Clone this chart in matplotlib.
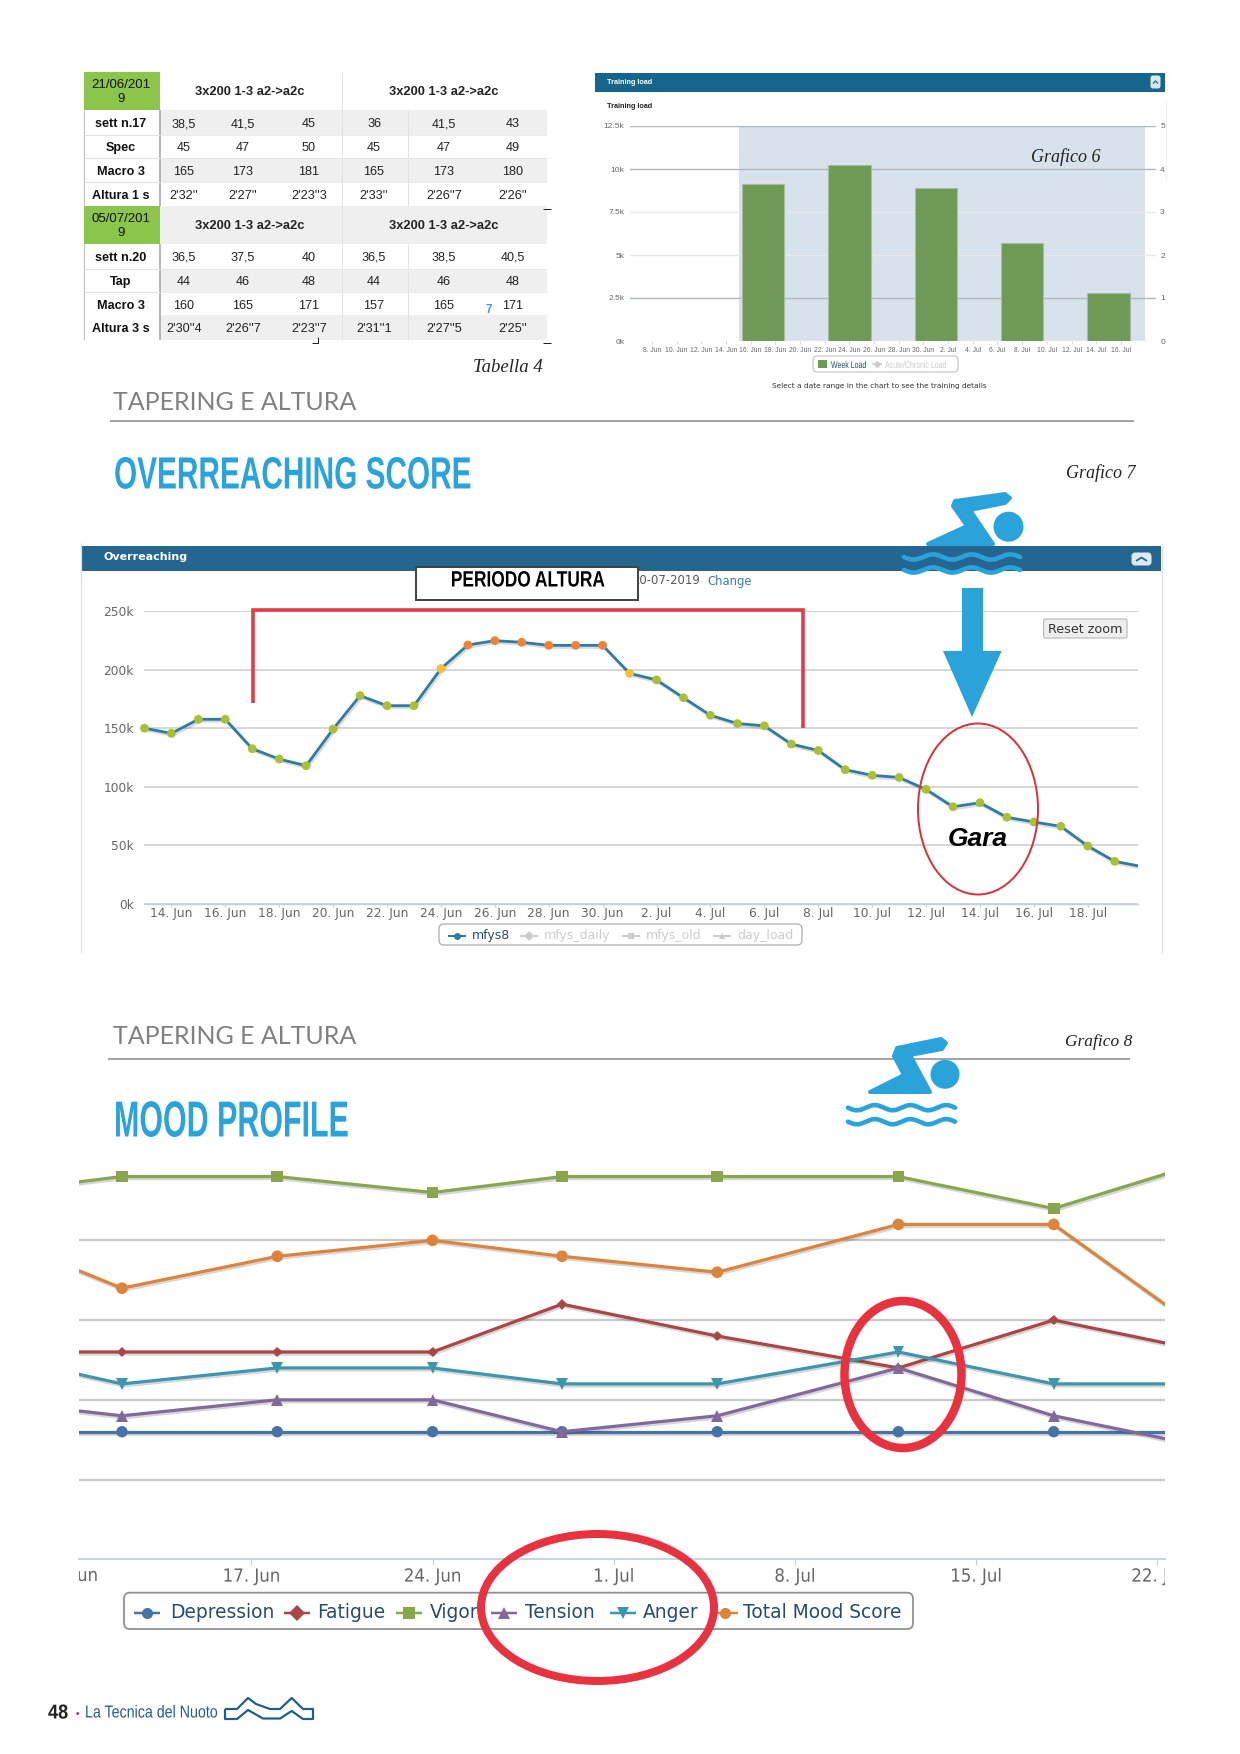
import numpy as np
import matplotlib
matplotlib.use('Agg')
import matplotlib.pyplot as plt
from matplotlib.patches import Rectangle, Ellipse, Polygon, Circle, FancyBboxPatch
from matplotlib.transforms import Affine2D, Bbox
import matplotlib.patheffects as pe

W, H = 1240, 1754
PX = 0.72
SANS = ['Liberation Sans']
SERIF = ['Liberation Serif']
DV = ['DejaVu Sans']

# ---------- table data ----------
table_top_header = ['3x200 1-3 a2->a2c', '3x200 1-3 a2->a2c']
table_dates = ['21/06/201\n9', '05/07/201\n9']
table_labels_a = ['sett n.17', 'Spec', 'Macro 3', 'Altura 1 s']
table_labels_b = ['sett n.20', 'Tap', 'Macro 3', 'Altura 3 s']
table_rows_a = [['38,5', '41,5', '45', '36', '41,5', '43'],
                ['45', '47', '50', '45', '47', '49'],
                ['165', '173', '181', '165', '173', '180'],
                ["2'32''", "2'27''", "2'23''3", "2'33''", "2'26''7", "2'26''"]]
table_rows_b = [['36,5', '37,5', '40', '36,5', '38,5', '40,5'],
                ['44', '46', '48', '44', '46', '48'],
                ['160', '165', '171', '157', '165', '171'],
                ["2'30''4", "2'26''7", "2'23''7", "2'31''1", "2'27''5", "2'25''"]]

# ---------- training load (Grafico 6) ----------
load_days = [17, 24, 31, 38, 45]
load_values = [9120, 10250, 8890, 5670, 2800]
load_tick_days = list(range(8, 47, 2))
load_tick_labels = ['8. Jun', '10. Jun', '12. Jun', '14. Jun', '16. Jun', '18. Jun', '20. Jun',
                    '22. Jun', '24. Jun', '26. Jun', '28. Jun', '30. Jun', '2. Jul', '4. Jul',
                    '6. Jul', '8. Jul', '10. Jul', '12. Jul', '14. Jul', '16. Jul']
load_yticks = [0, 2500, 5000, 7500, 10000, 12500]
load_ylabels = ['0k', '2.5k', '5k', '7.5k', '10k', '12.5k']
load_right_ticks = [0, 1, 2, 3, 4, 5]

# ---------- overreaching (Grafico 7) ----------
over_days = list(range(13, 51))
over_values = [150, 145.6, 157.6, 157.6, 132.5, 123.7, 118, 149.3, 177.8, 169.2, 169.2, 200.8,
               221, 224.7, 223.3, 220.7, 220.7, 220.7, 196.8, 191.2, 176, 161, 154, 152, 136.5,
               131, 114.6, 109.8, 108, 97.8, 83, 86.4, 74, 70, 66.3, 49.5, 36.4, 32]
over_tick_days = list(range(14, 49, 2))
over_tick_labels = ['14. Jun', '16. Jun', '18. Jun', '20. Jun', '22. Jun', '24. Jun', '26. Jun',
                    '28. Jun', '30. Jun', '2. Jul', '4. Jul', '6. Jul', '8. Jul', '10. Jul',
                    '12. Jul', '14. Jul', '16. Jul', '18. Jul']
over_yticks = [0, 50, 100, 150, 200, 250]
over_ylabels = ['0k', '50k', '100k', '150k', '200k', '250k']

# ---------- mood profile (Grafico 8) ----------
mood_days = [7, 12, 18, 24, 29, 35, 42, 48, 54]
depression = [8, 8, 8, 8, 8, 8, 8, 8, 8]
fatigue = [13, 13, 13, 13, 16, 14, 12, 15, 13]
vigor = [23, 24, 24, 23, 24, 24, 24, 22, 25]
tension = [9.9, 9, 10, 10, 8, 9, 12, 9, 7]
anger = [12.8, 11, 12, 12, 11, 11, 13, 11, 11]
total_mood = [20.3, 17, 19, 20, 19, 18, 21, 21, 14]
mood_tick_days = [17, 24, 31, 38, 45, 52]
mood_tick_labels = ['17. Jun', '24. Jun', '1. Jul', '8. Jul', '15. Jul', '22. Jul']
mood_grid = [5, 10, 15, 20]

fig = plt.figure(figsize=(W / 100, H / 100), dpi=100, facecolor='white')


class SqueezeX(pe.AbstractPathEffect):
    """Draws a text narrower about a fixed display x (the page's condensed typefaces)."""

    def __init__(self, sx, x0):
        super().__init__()
        self.sx, self.x0 = sx, x0

    def draw_path(self, renderer, gc, tpath, affine, rgbFace=None):
        a = affine + Affine2D().translate(-self.x0, 0).scale(self.sx, 1).translate(self.x0, 0)
        renderer.draw_path(gc, tpath, a, rgbFace)


def px_axes(l, t, r, b, z=1):
    ax = fig.add_axes([l / W, 1 - b / H, (r - l) / W, (b - t) / H], zorder=z)
    ax.patch.set_alpha(0)
    return ax


bg = px_axes(0, 0, W, H, 0)
fg = px_axes(0, 0, W, H, 5)
for a in (bg, fg):
    a.set_xlim(0, W)
    a.set_ylim(H, 0)
    a.axis('off')


def T(a, x, y, s, size, color='black', ha='center', va='center', family=SANS, sx=None, **kw):
    t = a.text(x, y + 1, s, fontsize=size, color=color, ha=ha, va=va, family=family, **kw)
    if sx:
        t.set_path_effects([SqueezeX(sx, x)])
    return t


def L(a, xs, ys, color, px=1.0, **kw):
    a.plot(xs, ys, color=color, lw=px * PX, solid_capstyle=kw.pop('cap', 'butt'), **kw)


def R(a, x0, y0, x1, y1, color, **kw):
    a.add_patch(Rectangle((x0, y0), x1 - x0, y1 - y0, facecolor=color, edgecolor='none', **kw))


def round_box(a, x0, y0, x1, y1, fc='white', ec='#999999', px=1.0, rad=4, **kw):
    a.add_patch(FancyBboxPatch((x0, y0), x1 - x0, y1 - y0,
                               boxstyle=f'round,pad=0,rounding_size={rad}',
                               fc=fc, ec=ec, lw=px * PX, **kw))


def squeeze_ticks(ax, ticks, labels, sx):
    for d, lab in zip(ticks, labels):
        lab.set_path_effects([SqueezeX(sx, ax.transData.transform((d, 0))[0])])


# ---------- table ----------
GREEN = '#8CC54B'
GREY = '#EFEFEF'
col_x = [184, 243, 309, 374, 444, 513]
row_edges = [110, 135, 158, 182, 206, 244, 269, 292, 315, 340]
for i, fill in enumerate([GREY, None, GREY, None, GREY, None, GREY, None, GREY]):
    if fill:
        R(bg, 160, row_edges[i], 547, row_edges[i + 1], fill)
R(bg, 84, 72, 160, 110, GREEN)
R(bg, 84, 206, 160, 244, GREEN)
L(bg, [84, 84], [110, 206], '#BBBBBB', 1)
L(bg, [84, 84], [244, 340], '#BBBBBB', 1)
L(bg, [160, 160], [110, 206], '#A0A0A0', 1.5)
L(bg, [160, 160], [244, 340], '#A0A0A0', 1.5)
L(bg, [342, 342], [72, 340], '#E2E2E2', 1)
L(bg, [408, 408], [110, 206], '#E2E2E2', 1)
L(bg, [408, 408], [244, 340], '#E2E2E2', 1)
for y in row_edges[1:4] + row_edges[6:8]:
    L(bg, [84, 160], [y, y], '#E2E2E2', 1)
    L(bg, [160, 547], [y, y], '#E6E6E6', 0.8)
tbl_fs = 9.1
for date, y, hy in zip(table_dates, [91, 225], [91.3, 225]):
    T(bg, 121, y, date, 9.5, linespacing=1.3, color='#111111')
    for cx, h in zip([250, 444], table_top_header):
        T(bg, cx, hy, h, 9.3, weight='bold', color='#222222')
for labels, rows, ys in [(table_labels_a, table_rows_a, [123.3, 147, 171, 194.7]),
                         (table_labels_b, table_rows_b, [257, 281, 305, 327.7])]:
    for lab, row, y in zip(labels, rows, ys):
        T(bg, 121, y, lab, tbl_fs, weight='bold', color='#111111')
        for cx, v in zip(col_x, row):
            T(bg, cx, y, v, tbl_fs, color='#222222')
T(bg, 489, 309, '7', 8.5, color='#3E9DBB', weight='bold')
L(bg, [543, 551], [209, 209], '#222222', 1)
L(bg, [543, 551], [343, 343], '#222222', 1)
L(bg, [312, 318, 318], [343, 343, 337], '#222222', 1)
T(bg, 543, 367, 'Tabella 4', 13.5, ha='right', family=SERIF, style='italic', color='#222222')

# ---------- section titles ----------
HEAD = '#29A3D9'
T(bg, 113, 401, 'TAPERING E ALTURA', 18, color='#808080', ha='left', family=['Lato'])
L(bg, [110, 1134], [421, 421], '#A5A5A5', 2)
T(bg, 114, 476, 'OVERREACHING SCORE', 32.5, color=HEAD, ha='left', weight='bold', sx=0.66)
T(bg, 1136, 472, 'Grafico 7', 13, ha='right', family=SERIF, style='italic', color='#222222')
T(bg, 113, 1036, 'TAPERING E ALTURA', 18, color='#808080', ha='left', family=['Lato'])
L(bg, [108, 1130], [1059, 1059], '#A5A5A5', 2)
T(bg, 114, 1122, 'MOOD PROFILE', 36.5, color=HEAD, ha='left', weight='bold', sx=0.6)
T(bg, 1132, 1041, 'Grafico 8', 12.5, ha='right', family=SERIF, style='italic', color='#222222')

# ---------- Grafico 6 ----------
R(bg, 595, 73, 1165, 92, '#15658C')
T(bg, 607, 81, 'Training load', 5.2, color='white', ha='left', weight='bold')
T(bg, 607, 105, 'Training load', 5.2, color='#222222', ha='left', weight='bold')
round_box(bg, 1151, 76, 1160, 88, fc='#D8E8F2', ec='#D8E8F2', rad=2)
L(bg, [1153, 1155.5, 1158], [83.5, 81, 83.5], '#15658C', 1.2)
L(bg, [1166, 1166], [100, 180], '#F0F0F0', 1)

ax6 = px_axes(630, 126, 1156, 341)
ax6.axvspan(15.1, 47.97, color='#D8E2EC', zorder=0, lw=0)
ax6.bar(load_days, load_values, width=3.44, color='#6E9A56', edgecolor='#A9BBA2',
        linewidth=0.8, zorder=3)
ax6.set_yticks(load_yticks, load_ylabels, fontsize=6, color='#666666', family=SANS)
ax6.set_xticks(load_tick_days, load_tick_labels, fontsize=4.9, color='#666666', family=SANS)
ax6.set_xlim(6.23, 48.84)
ax6.set_ylim(0, 12500)
ax6.tick_params(axis='y', length=0, pad=4)
ax6.tick_params(axis='x', length=2, color='#C0D0E0', width=0.6, pad=2)
for s in ax6.spines.values():
    s.set_visible(False)
ax6.yaxis.grid(True, zorder=1)
ax6.set_axisbelow(True)
for gl, c in zip(ax6.yaxis.get_gridlines(), ['#E8ECEF', '#B2B6B8', '#E6E8EA', '#E6E8EA', '#B2B6B8', '#B2B6B8']):
    gl.set_color(c)
    gl.set_linewidth(1)
ax6b = ax6.twinx()
ax6b.set_ylim(0, 5)
ax6b.set_yticks(load_right_ticks, [str(v) for v in load_right_ticks], fontsize=6,
                color='#666666', family=SANS)
ax6b.tick_params(axis='y', length=0, pad=3)
for s in ax6b.spines.values():
    s.set_visible(False)
ax6b.patch.set_alpha(0)
T(fg, 1066, 156, 'Grafico 6', 13, family=SERIF, style='italic', color='#222222')
round_box(bg, 813, 356, 958, 372, ec='#BBBBBB')
R(bg, 818, 360, 827, 368, '#6E9A56')
T(bg, 831, 364, 'Week Load', 7, ha='left', color='#274B6D', sx=0.72)
L(bg, [872, 882], [364, 364], '#CCCCCC', 1.5)
bg.plot([877], [364], 'D', color='#CCCCCC', ms=3)
T(bg, 885, 364, 'Acute/Chronic Load', 7, ha='left', color='#CCCCCC', sx=0.72)
T(bg, 879, 385, 'Select a date range in the chart to see the training details', 5.3, color='#333333',
  family=DV)

# ---------- Grafico 7 ----------
R(bg, 81, 546, 1161, 571, '#246690')
L(bg, [81, 81], [543, 953], '#E0E0E0', 1.2)
L(bg, [1162, 1162], [543, 953], '#E0E0E0', 1.2)
T(bg, 104, 556, 'Overreaching', 8, color='white', ha='left', weight='bold', family=DV)
T(bg, 700, 580, '20-07-2019', 8.4, color='#555555', ha='right', family=DV)
T(bg, 707, 580, 'Change', 8.4, color='#3A79B0', ha='left', family=DV)
round_box(bg, 1132, 553, 1151, 565, fc='#DCEBF4', ec='#DCEBF4', rad=3)
L(bg, [1136, 1141.5, 1147], [561, 557.5, 561], '#246690', 1.8)

ax7 = px_axes(143.5, 611, 1137.6, 904)
ax7.yaxis.grid(True, color='#CCCCCC', linewidth=1.1)
ax7.set_axisbelow(True)
ax7.plot(over_days, over_values, color='#2E7BA4', lw=2.0, zorder=3,
         path_effects=[pe.SimpleLineShadow(offset=(1, -1.5), alpha=0.18, shadow_color='#333333'), pe.Normal()])
point_colors = ['#EE8236' if v >= 210 else '#F6BE3A' if v >= 195 else '#A9C034' for v in over_values]
ax7.scatter(over_days[:-1], over_values[:-1], s=40, c=point_colors[:-1], zorder=4, linewidths=0, clip_on=False)
ax7.set_yticks(over_yticks, over_ylabels, fontsize=8.8, color='#666666', family=DV)
ax7.set_xticks(over_tick_days, over_tick_labels, fontsize=8.8, color='#666666', family=DV)
ax7.set_xlim(12.965, 49.85)
ax7.set_ylim(0, 250)
ax7.tick_params(axis='y', length=0, pad=7)
ax7.tick_params(axis='x', length=2, color='#C0D0E0', width=0.8, pad=0)
for k, s in ax7.spines.items():
    s.set_visible(k == 'bottom')
ax7.spines['bottom'].set_color('#C0D0E0')
ax7.spines['bottom'].set_linewidth(1)

round_box(bg, 439, 924, 802, 945, ec='#AAAAAA', px=1.2, rad=5)
for ix, tx, name, col, mk in [(456.5, 472, 'mfys8', '#274B6D', 'o'), (529, 544, 'mfys_daily', '#CCCCCC', 'D'),
                              (631, 646, 'mfys_old', '#CCCCCC', 's'), (722, 737, 'day_load', '#CCCCCC', '^')]:
    c2 = '#2E7BA4' if name == 'mfys8' else col
    L(bg, [ix - 9, ix + 9], [936, 936], c2, 2)
    bg.plot([ix], [936], mk, color=c2, ms=5, mew=0)
    T(bg, tx, 935, name, 9, ha='left', color=col, family=DV)

round_box(bg, 1043.6, 619, 1127, 638, fc='#EEEEEE', ec='#BBBBBB', px=1.2, rad=2, zorder=6)
T(bg, 1085, 628.5, 'Reset zoom', 9.2, color='#333333', family=DV, zorder=7)

# red bracket, title box, race ellipse, arrow (overlay)
RED = '#E63946'
L(fg, [252.5, 252.5, 802.5, 802.5], [703, 610, 610, 728], RED, 3.6, solid_joinstyle='miter')
fg.add_patch(Rectangle((416, 567), 222, 33, fc='white', ec='#444444', lw=2 * PX))
T(fg, 528, 580, 'PERIODO ALTURA', 16, color='black', weight='bold', sx=0.78)
fg.add_patch(Ellipse((978, 809), 120, 171, fc='none', ec='#D8343F', lw=2 * PX))
T(fg, 977.5, 838, 'Gara', 19, weight='bold', style='italic', color='black')
fg.add_patch(Polygon([(962, 588), (983, 588), (983, 651), (1001.6, 651), (972, 717), (943, 651), (962, 651)],
                     fc=HEAD, ec='none'))


def swimmer(head, r, pts, wave_x, wave_y):
    fg.add_patch(Circle(head, r, fc=HEAD, ec='none'))
    fg.add_patch(Polygon(pts, fc=HEAD, ec=HEAD, lw=4 * PX, joinstyle='round'))
    for y0 in wave_y:
        xs = np.linspace(wave_x[0], wave_x[1], 160)
        ys = y0 + 2.6 * np.sin((xs - wave_x[0]) / (wave_x[1] - wave_x[0]) * 2 * np.pi * 3)
        fg.plot(xs, ys, color=HEAD, lw=4.6 * PX, solid_capstyle='round')


swimmer((1008.5, 526.7), 15,
        [(953, 506), (955, 501), (1005, 494), (1010, 498), (1005, 503), (970, 510),
         (993, 544), (928, 544), (967, 526)],
        (904, 1020), (557, 570))
swimmer((945, 1074.3), 14.5,
        [(894, 1056), (897, 1048), (941, 1039), (946, 1043), (942, 1049), (910, 1055),
         (930, 1092), (870, 1092), (904, 1075)],
        (848, 955), (1107.7, 1121.7))

# ---------- Grafico 8 ----------
ax8 = px_axes(79, 1160.6, 1165, 1559.3)
ax8.set_yticks(mood_grid)
ax8.yaxis.grid(True, color='#C8C8C8', linewidth=1.6)
ax8.set_axisbelow(True)
ax8.tick_params(axis='y', length=0, labelleft=False)
ax8.set_xticks(mood_tick_days, mood_tick_labels, fontsize=13, color='#666666', family=DV)
ax8.set_xlim(10.34, 52.30)
ax8.set_ylim(0, 25)
ax8.tick_params(axis='x', length=4, color='#C0D0E0', width=0.8, pad=2)
squeeze_ticks(ax8, mood_tick_days, ax8.get_xticklabels(), 0.92)
clip_box = Bbox([[79, 0], [1165, H]])
for lab in ax8.get_xticklabels():
    lab.set_clip_box(clip_box)
    lab.set_clip_on(True)
edge = T(bg, 69, 1575, '10. Jun', 13, color='#666666', family=DV, sx=0.92)
edge.set_clip_box(clip_box)
edge.set_clip_on(True)
for k, s in ax8.spines.items():
    s.set_visible(k == 'bottom')
ax8.spines['bottom'].set_color('#C0D0E0')
ax8.spines['bottom'].set_linewidth(1.3)
shadow = [pe.SimpleLineShadow(offset=(0.8, -1.5), alpha=0.2, shadow_color='#333333'), pe.Normal()]
mood_series = [('Depression', depression, '#4572A7', 'o', 8.2),
               ('Fatigue', fatigue, '#AA4643', 'D', 5.5),
               ('Vigor', vigor, '#89A54E', 's', 8.4),
               ('Tension', tension, '#80699B', '^', 8.4),
               ('Anger', anger, '#3D96AE', 'v', 8.4),
               ('Total Mood Score', total_mood, '#DB843D', 'o', 8.4)]
for name, vals, col, mk, ms in mood_series:
    ax8.plot(mood_days, vals, color=col, lw=2.3, marker=mk, ms=ms, mew=0, label=name, path_effects=shadow)

round_box(bg, 124, 1592.7, 913, 1629, ec='#909090', px=1.8, rad=6)
leg_pos = [(147, 170), (297, 317.6), (408.5, 430), (504, 525), (623, 643), (725, 743)]
for (ix, tx), (name, vals, col, mk, ms) in zip(leg_pos, mood_series):
    L(bg, [ix - 13, ix + 13], [1613, 1613], col, 2.5)
    bg.plot([ix], [1613], mk, color=col, ms=8, mew=0)
    T(bg, tx, 1612, name, 13.4, ha='left', color='#274B6D', family=DV)

fg.add_patch(Ellipse((903, 1374.5), 117, 147, fc='none', ec='#E8323F', lw=8.5 * PX))
fg.add_patch(Ellipse((597.5, 1607.5), 233, 147, fc='none', ec='#E8323F', lw=8 * PX))

# ---------- footer ----------
T(bg, 48, 1712, '48', 14.5, ha='left', weight='bold', sx=0.9, color='#222222')
T(bg, 77, 1713, '•', 7, color='#C2185B')
T(bg, 85, 1712, 'La Tecnica del Nuoto', 12.5, ha='left', color='#1F5C8F', sx=0.82)
logo_x = [225, 237, 248, 256, 270, 280, 291.7, 303, 313, 313, 303, 291.7, 280, 263, 248, 237, 225, 225]
logo_y = [1709, 1709, 1698, 1704, 1709, 1709, 1698, 1709, 1709, 1719, 1719, 1711, 1718.5, 1718.5, 1710, 1719, 1719, 1709]
L(bg, logo_x, logo_y, '#1F5C8F', 2.2, solid_joinstyle='round')

fig.savefig('out.png', dpi=100, facecolor='white')
